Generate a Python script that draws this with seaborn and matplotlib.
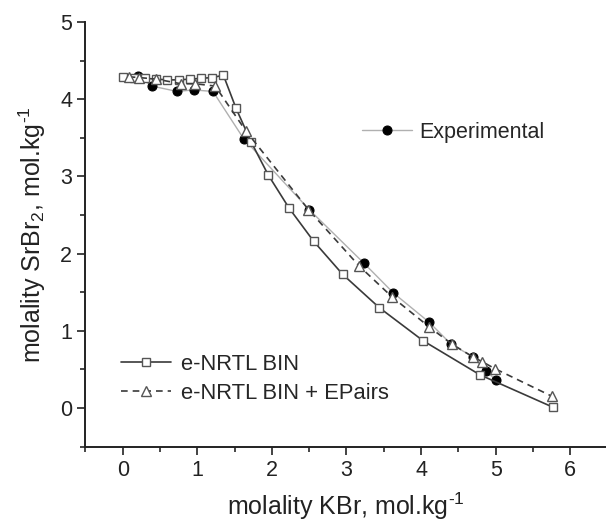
import matplotlib
matplotlib.use("Agg")
import matplotlib.pyplot as plt
import seaborn as sns
import pandas as pd
from matplotlib.ticker import MultipleLocator

# e-NRTL BIN (squares)
bin_x = [0.0, 0.15, 0.30, 0.45, 0.60, 0.75, 0.90, 1.05, 1.20, 1.35, 1.52, 1.72, 1.95, 2.23, 2.56, 2.95, 3.44, 4.03, 4.79, 5.77]
bin_y = [4.29, 4.28, 4.27, 4.26, 4.25, 4.25, 4.26, 4.27, 4.28, 4.31, 3.88, 3.45, 3.02, 2.59, 2.16, 1.73, 1.30, 0.87, 0.43, 0.01]

# e-NRTL BIN + EPairs (triangles)
ep_x = [0.08, 0.22, 0.45, 0.78, 0.97, 1.24, 1.65, 2.49, 3.17, 3.61, 4.11, 4.41, 4.70, 4.82, 4.99, 5.76]
ep_y = [4.29, 4.28, 4.26, 4.20, 4.20, 4.17, 3.59, 2.57, 1.84, 1.44, 1.05, 0.83, 0.66, 0.60, 0.51, 0.15]

# Experimental (filled circles)
exp_x = [0.21, 0.39, 0.73, 0.95, 1.21, 1.62, 2.50, 3.23, 3.63, 4.11, 4.40, 4.70, 4.87, 5.01]
exp_y = [4.30, 4.17, 4.10, 4.12, 4.10, 3.49, 2.57, 1.88, 1.49, 1.11, 0.83, 0.66, 0.48, 0.36]

x_ticks = [0, 1, 2, 3, 4, 5, 6]
y_ticks = [0, 1, 2, 3, 4, 5]

sns.set_style("ticks")
plt.rcParams['font.family'] = ['Liberation Sans', 'DejaVu Sans']
plt.rcParams['mathtext.fontset'] = 'custom'
plt.rcParams['mathtext.rm'] = 'Liberation Sans'
plt.rcParams['mathtext.it'] = 'Liberation Sans'

fig = plt.figure(figsize=(6.06, 5.23), dpi=100)
ax = fig.add_axes([0.141, 0.146, 0.859, 0.812])

df_bin = pd.DataFrame({"x": bin_x, "y": bin_y})
df_ep = pd.DataFrame({"x": ep_x, "y": ep_y})
df_exp = pd.DataFrame({"x": exp_x, "y": exp_y})

sns.lineplot(data=df_exp, x="x", y="y", ax=ax, estimator=None, sort=False,
             color="#b0b0b0", lw=1.0, marker="o", markersize=6.5,
             markerfacecolor="black", markeredgecolor="black", zorder=2)
sns.lineplot(data=df_bin, x="x", y="y", ax=ax, estimator=None, sort=False,
             color="#3a3a3a", lw=1.2, marker="s", markersize=5.5,
             markerfacecolor="white", markeredgecolor="#555555", markeredgewidth=1.0, zorder=3)
sns.lineplot(data=df_ep, x="x", y="y", ax=ax, estimator=None, sort=False,
             color="#3a3a3a", lw=1.2, ls=(0, (4, 3)), marker="^", markersize=7,
             markerfacecolor="white", markeredgecolor="#555555", markeredgewidth=1.0, zorder=4)

lines = ax.get_lines()
h_exp, h_bin, h_ep = lines[0], lines[1], lines[2]

leg1 = ax.legend([h_exp], ["Experimental"], loc="upper left",
                 bbox_to_anchor=(0.495, 0.81), frameon=False, fontsize=15.5,
                 handlelength=2.3, handletextpad=0.35)
ax.add_artist(leg1)
ax.legend([h_bin, h_ep], ["e-NRTL BIN", "e-NRTL BIN + EPairs"], loc="lower left",
          bbox_to_anchor=(0.03, 0.055), frameon=False, fontsize=15.8,
          handlelength=2.3, handletextpad=0.45, labelspacing=0.35)

ax.set_xlim(-0.5, 6.48)
ax.set_ylim(-0.5, 5.0)
ax.set_xticks(x_ticks)
ax.set_yticks(y_ticks)
ax.xaxis.set_minor_locator(MultipleLocator(0.5))
ax.yaxis.set_minor_locator(MultipleLocator(0.5))
ax.tick_params(which="major", direction="out", length=6, width=1.2, labelsize=15.5, colors="#222222")
ax.tick_params(which="minor", direction="out", length=3.5, width=1.2)
for s in ["top", "right"]:
    ax.spines[s].set_visible(False)
for s in ["left", "bottom"]:
    ax.spines[s].set_linewidth(1.4)
    ax.spines[s].set_color("#222222")

ax.set_xlabel("molality KBr, mol.kg$^{\u2010 1}$", fontsize=18, labelpad=7, color="#222222")
ax.set_ylabel("molality SrBr$_2$, mol.kg$^{\u2010 1}$", fontsize=18, labelpad=9, color="#222222")

fig.savefig("out.png", dpi=100)
